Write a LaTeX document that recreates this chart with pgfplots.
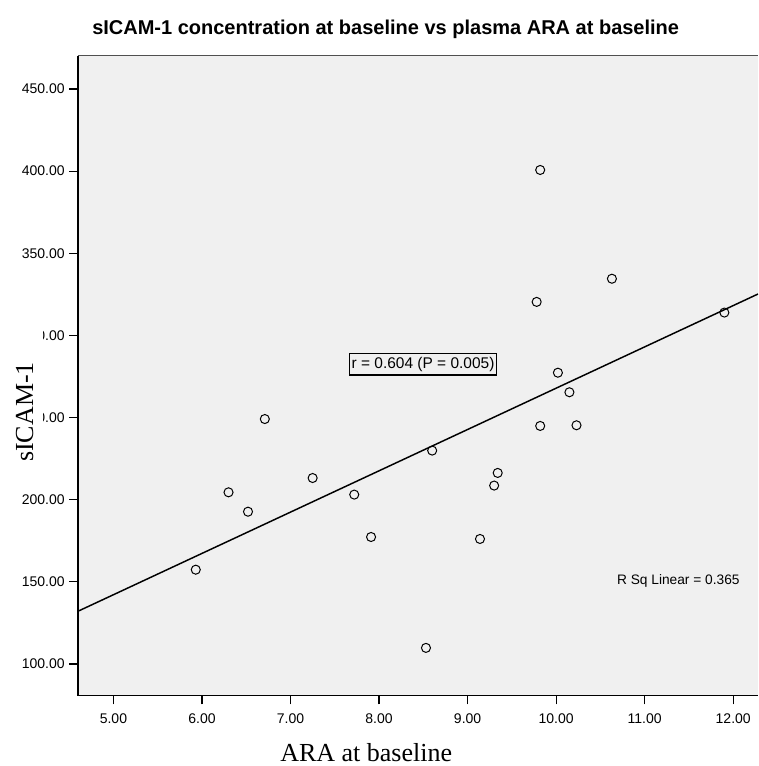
\documentclass[border=0pt]{standalone}
\usepackage{pgfplots}
\pgfplotsset{compat=1.18}
\usepackage{fontspec}
\setmainfont{Liberation Sans}
\newfontfamily\seriffont{Liberation Serif}
\definecolor{panel}{HTML}{F0F0F0}
\definecolor{topline}{HTML}{505050}

\begin{document}
\begin{tikzpicture}[x=0.75pt,y=0.75pt]
\useasboundingbox (0,0) rectangle (758,766);
\begin{axis}[
    at={(58.5pt,52.725pt)}, anchor=south west,
    scale only axis,
    width=510pt, height=479.8pt,
    xmin=4.60, xmax=12.28,
    ymin=80.7, ymax=470.1,
    xtick={5,6,...,12},
    ytick={100,150,...,450},
    axis lines=left,
    axis line style={-, line width=1.1pt},
    tick align=outside,
    major tick length=6.5pt,
    tick style={black, line width=0.9pt},
    axis background/.style={fill=panel},
    tick label style={font=\fontsize{10.5}{12}\selectfont},
    xticklabel style={yshift=-3.5pt},
    /pgf/number format/fixed,
    /pgf/number format/fixed zerofill,
    /pgf/number format/precision=2,
    /pgf/number format/assume math mode=true,
]
% observed values
\addplot[only marks, mark=o, mark size=3.4pt, mark options={black, line width=0.75pt}] coordinates {
    (5.93,157.4) (6.30,204.5) (6.52,192.7) (6.71,249.1) (7.25,213.2)
    (7.72,203.1) (7.91,177.3) (8.53,109.8) (8.60,229.9) (9.14,176.1)
    (9.30,208.6) (9.34,216.3) (9.78,320.4) (9.82,400.7) (9.82,244.9)
    (10.02,277.3) (10.15,265.4) (10.23,245.3) (10.63,334.5) (11.90,313.9)
};
% fit line
\addplot[black, line width=1.1pt] coordinates {(4.60,132.1) (12.28,325.2)};

\draw[topline, line width=0.8pt] (rel axis cs:0,1) -- (rel axis cs:1,1);
\node[draw=black, line width=0.8pt, fill=panel, inner xsep=1.5pt, inner ysep=2.5pt,
      font=\fontsize{11.6}{13}\selectfont] at (axis cs:8.497,282.3) {r = 0.604 (P = 0.005)};
\node[font=\fontsize{10.3}{12}\selectfont] at (axis cs:11.38,150.5) {R Sq Linear = 0.365};
\end{axis}

\node[anchor=base west, inner sep=0pt, font=\bfseries\fontsize{15}{18}\selectfont] at (92,731)
    {sICAM-1 concentration at baseline vs plasma ARA at baseline};
\fill[white] (0,296) rectangle (43,441);
\node[rotate=90, anchor=base, inner sep=0pt, font=\seriffont\fontsize{19.5}{22}\selectfont] at (33,354) {sICAM-1};
\node[anchor=base west, inner sep=0pt, font=\seriffont\fontsize{19.5}{22}\selectfont] at (280,4.3) {ARA at baseline};
\end{tikzpicture}
\end{document}
